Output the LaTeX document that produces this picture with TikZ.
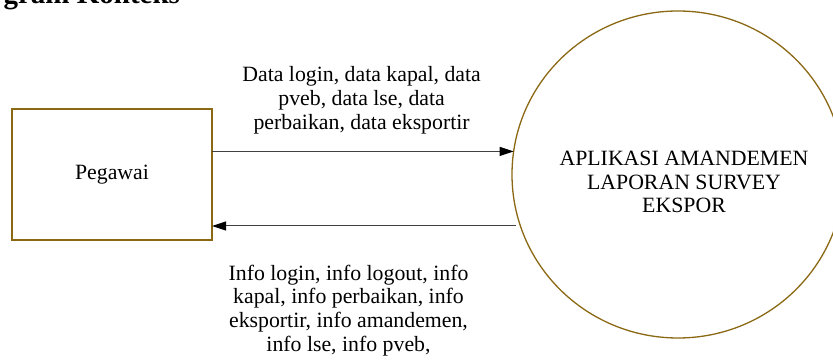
\documentclass[tikz,border=0pt]{standalone}
\usepackage{fontspec}
\setmainfont{Liberation Serif}
\usetikzlibrary{arrows.meta,shapes.geometric}
\definecolor{brn}{RGB}{139,105,20}
\begin{document}
\begin{tikzpicture}[x=1pt,y=1pt,
  every node/.style={font=\fontsize{21.8}{23.6}\selectfont, inner sep=0pt, outer sep=0pt},
  entity/.style={draw=brn, line width=1.3pt, minimum width=200pt, minimum height=131pt},
  proc/.style={ellipse, draw=brn, line width=1.3pt, minimum width=332pt, minimum height=327pt},
  flow/.style={draw=black!75, line width=1pt, -{Triangle[length=14pt,width=9pt,color=black]}},
  lbl/.style={align=center}]
\useasboundingbox (0,0) rectangle (833,361);
\node[font=\fontsize{29}{30}\selectfont\bfseries, anchor=base east] (title) at (180,357.5) {gram Konteks};
\node[entity] (peg) at (112,186.5) {Pegawai};
\node[proc] (app) at (678,186.5) {};
\node[lbl] (appt) at (684,179) {APLIKASI AMANDEMEN\\LAPORAN SURVEY\\EKSPOR};
\coordinate (tin) at (app.172.1);
\draw[flow] (peg.east |- tin) -- (tin);
\coordinate (bout) at ([xshift=3.7pt,yshift=-51.5pt]app.west);
\draw[flow] (bout) -- (peg.east |- bout);
\node[lbl] (dl) at (361.6,260.75) {Data login, data kapal, data\\pveb, data lse, data\\perbaikan, data eksportir};
\node[lbl] (il) at (348.5,50.75) {Info login, info logout, info\\kapal, info perbaikan, info\\eksportir, info amandemen,\\info lse, info pveb,};
\end{tikzpicture}
\end{document}
